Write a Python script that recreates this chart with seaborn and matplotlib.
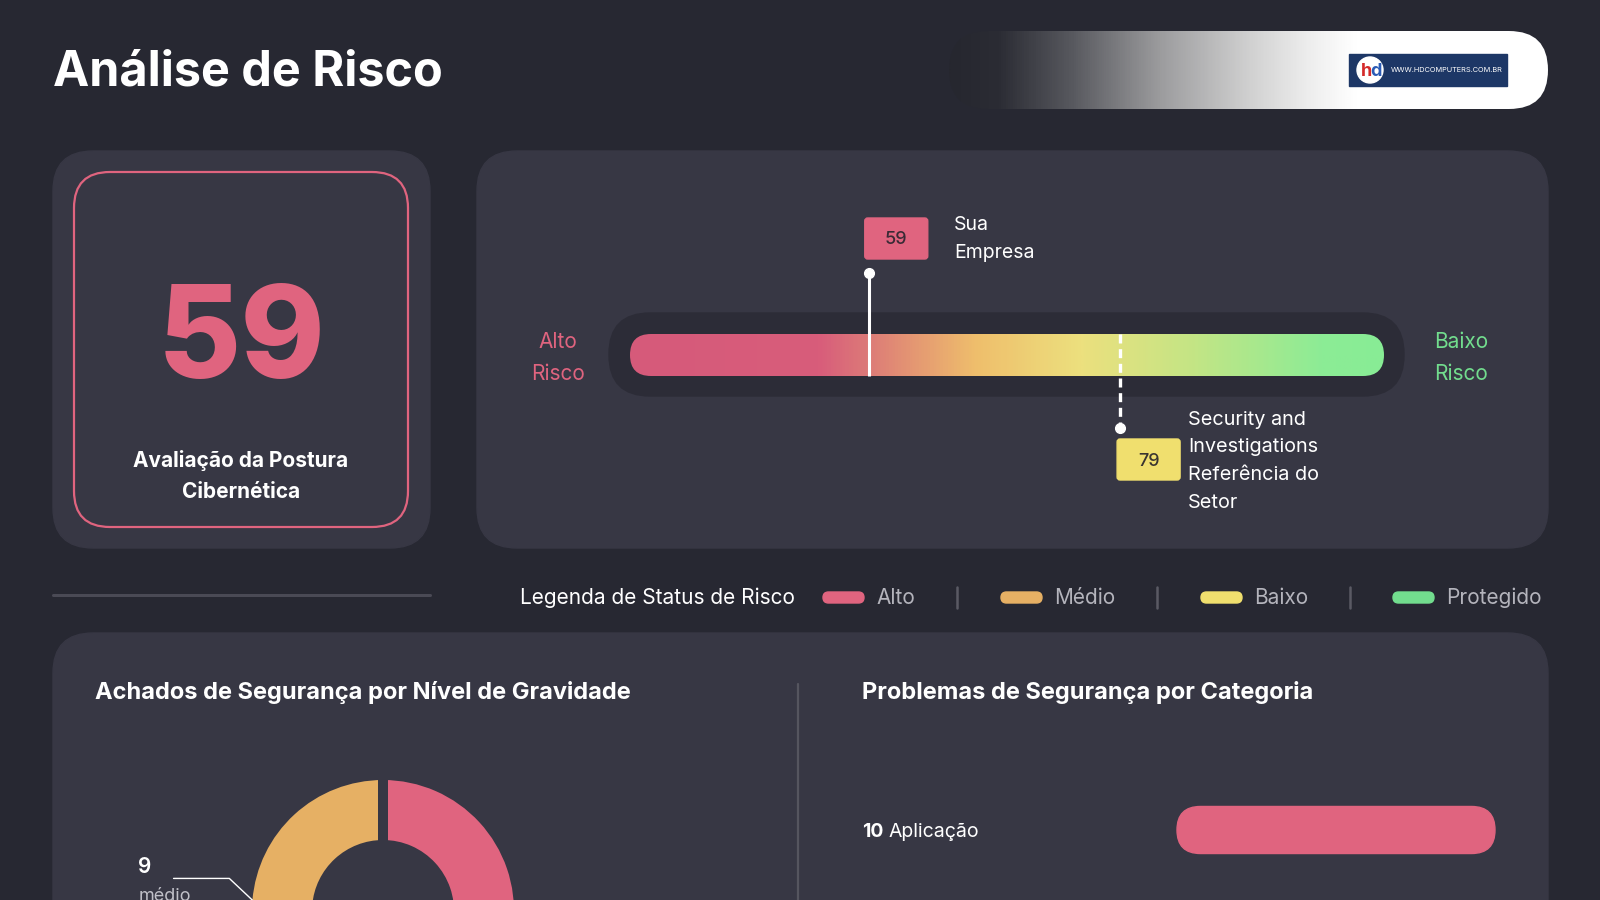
import numpy as np
import pandas as pd
import matplotlib
matplotlib.use("Agg")
import matplotlib.pyplot as plt
import seaborn as sns
from matplotlib.patches import FancyBboxPatch, Circle
from matplotlib.colors import LinearSegmentedColormap

# ---------------------------------------
# DATA
# ---------------------------------------
score = 59
benchmark = 79
benchmark_label = ["Security and", "Investigations", "Referência do", "Setor"]
scale_min, scale_max = 40, 100

legend_names = ["Alto", "Médio", "Baixo", "Protegido"]

severity_names = ["alto", "médio"]
severity_counts = [10, 9]

categories = ["Aplicação"]
category_counts = [10]

# ---------------------------------------
# STYLE
# ---------------------------------------
BG = "#272832"
CARD = "#373744"
PINK = "#e0647f"
ORANGE = "#e6b064"
YELLOW = "#f0df6e"
GREEN = "#72dd8e"
GREY_TXT = "#b4b4bc"
legend_colors = [PINK, ORANGE, YELLOW, GREEN]
severity_colors = [PINK, ORANGE]

sns.set_theme(style="dark")
plt.rcParams["font.family"] = ["Inter", "DejaVu Sans"]

fig = plt.figure(figsize=(16, 9), dpi=100, facecolor=BG)
bg = fig.add_axes([0, 0, 1, 1])
bg.set_xlim(0, 1600)
bg.set_ylim(900, 0)
bg.set_autoscale_on(False)
bg.axis("off")
bg.set_facecolor(BG)


def rbox(x0, y0, x1, y1, r, **kw):
    return FancyBboxPatch((x0, y0), x1 - x0, y1 - y0,
                          boxstyle=f"round,pad=0,rounding_size={r}", **kw)


def gradient(x0, y0, x1, y1, r, stops):
    cmap = LinearSegmentedColormap.from_list("g", stops)
    im = bg.imshow(np.linspace(0, 1, 600)[None, :], extent=(x0, x1, y1, y0),
                   cmap=cmap, aspect="auto", zorder=2)
    clip = rbox(x0, y0, x1, y1, r, transform=bg.transData)
    im.set_clip_path(clip)


# ---------------------------------------
# HEADER
# ---------------------------------------
bg.text(53, 72, "Análise de Risco", color="white", fontsize=35,
        fontweight="bold", va="center", ha="left")

gradient(949, 31, 1548, 109, 39,
         [(0, "#26272f"), (0.08, "#2b2c34"), (0.2, "#56575d"), (0.35, "#9b9b9d"),
          (0.5, "#d0d0d0"), (0.6, "#ededed"), (0.68, "#ffffff"), (1, "#ffffff")])
bg.add_patch(plt.Rectangle((1349, 54), 158, 32, color="#1d3766", zorder=3))
bg.add_patch(Circle((1370, 70), 13, color="white", zorder=4))
bg.text(1366, 71, "h", color="#d42a2a", fontsize=13, fontweight="bold",
        ha="center", va="center", zorder=5)
bg.text(1376, 71, "d", color="#2a5bb5", fontsize=13, fontweight="bold",
        ha="center", va="center", zorder=5)
bg.text(1391, 70, "WWW.HDCOMPUTERS.COM.BR", color="white", fontsize=5.3,
        ha="left", va="center", zorder=5)

# ---------------------------------------
# SCORE CARD
# ---------------------------------------
bg.add_patch(rbox(53, 151, 430, 548, 40, color=CARD, zorder=1))
bg.add_patch(rbox(74, 172, 408, 527, 36, fc="none", ec=PINK, lw=1.6, zorder=2))
bg.text(242, 378, str(score), color=PINK, fontsize=92, fontweight="heavy",
        ha="center", va="baseline", zorder=3)
bg.text(241, 476, "Avaliação da Postura\nCibernética", color="white",
        fontsize=15, fontweight="bold", ha="center", va="center",
        linespacing=1.65, zorder=3)

# ---------------------------------------
# GAUGE CARD
# ---------------------------------------
bg.add_patch(rbox(477, 151, 1548, 548, 40, color=CARD, zorder=1))
bg.add_patch(rbox(609, 313, 1404, 396, 41, color="#2c2c37", zorder=1.5))
gradient(630, 334, 1384, 376, 21,
         [(0, "#d65a7a"), (0.25, "#d85d7b"), (0.31, "#dc7878"), (0.46, "#efbf6c"),
          (0.6, "#ece07e"), (0.75, "#c3e585"), (0.92, "#8cec96"), (1, "#88ec95")])
bg.text(558, 358, "Alto\nRisco", color=PINK, fontsize=15, ha="center",
        va="center", linespacing=1.75, zorder=3)
bg.text(1461, 358, "Baixo\nRisco", color=GREEN, fontsize=15, ha="center",
        va="center", linespacing=1.75, zorder=3)

ax_g = fig.add_axes([630 / 1600, 0, 754 / 1600, 1])
ax_g.set_xlim(scale_min, scale_max)
ax_g.set_ylim(900, 0)
ax_g.axis("off")
ax_g.patch.set_alpha(0)
ax_g.plot([score, score], [273, 376], color="white", lw=2.2,
          solid_capstyle="butt", zorder=5)
ax_g.plot([score], [273], "o", color="white", ms=7, zorder=6)
ax_g.plot([benchmark, benchmark], [334, 428], color="white", lw=2.4,
          linestyle=(0, (2.7, 1.7)), zorder=5)
ax_g.plot([benchmark], [428], "o", color="white", ms=7, zorder=6)

sx = ax_g.transData.transform((score, 0))[0]
bx = ax_g.transData.transform((benchmark, 0))[0] + 2

bg.add_patch(rbox(sx - 4, 218, sx + 59, 259, 3, color=PINK, zorder=3))
bg.text(sx + 27.5, 240, str(score), color="#3a2a35", fontsize=13,
        fontweight="medium", ha="center", va="center", zorder=4)
bg.text(sx + 85, 225, "Sua", color="white", fontsize=14, va="center", zorder=4)
bg.text(sx + 85, 253, "Empresa", color="white", fontsize=14, va="center", zorder=4)

bg.add_patch(rbox(bx - 5, 439, bx + 58, 480, 3, color=YELLOW, zorder=3))
bg.text(bx + 26.5, 461, str(benchmark), color="#3a3530", fontsize=13,
        fontweight="medium", ha="center", va="center", zorder=4)
for i, line in enumerate(benchmark_label):
    bg.text(bx + 66, 420 + i * 27.5, line, color="white", fontsize=14.3,
            va="center", zorder=4)

# ---------------------------------------
# LEGEND ROW
# ---------------------------------------
bg.plot([53, 430], [595, 595], color="#4a4a55", lw=2.2)
bg.text(520, 598, "Legenda de Status de Risco", color="white", fontsize=15,
        va="center")
pill_x = [823, 1001, 1201, 1393]
for name, col, px in zip(legend_names, legend_colors, pill_x):
    bg.add_patch(rbox(px, 592, px + 41, 603, 5.5, color=col, zorder=2))
    bg.text(px + 53, 598, name, color=GREY_TXT, fontsize=15, va="center")
for sep in [957, 1157, 1350]:
    bg.plot([sep, sep], [587, 608], color="#5a5a64", lw=1.8)

# ---------------------------------------
# BOTTOM CARD
# ---------------------------------------
bg.add_patch(rbox(53, 633, 1548, 980, 40, color=CARD, zorder=1))
bg.plot([798, 798], [684, 900], color="#55555f", lw=1.6, zorder=2)
bg.text(95, 693, "Achados de Segurança por Nível de Gravidade", color="white",
        fontsize=17, fontweight="bold", va="center", zorder=3)
bg.text(862, 693, "Problemas de Segurança por Categoria", color="white",
        fontsize=17, fontweight="bold", va="center", zorder=3)

# donut
ax_d = fig.add_axes([(383 - 136) / 1600, (900 - 911 - 136) / 900,
                     272 / 1600, 272 / 900])
wedges, _ = ax_d.pie(severity_counts, colors=severity_colors, startangle=90,
                     counterclock=False,
                     wedgeprops=dict(width=70 / 136, edgecolor=CARD, linewidth=7.2))
ax_d.set_xlim(-1, 1)
ax_d.set_ylim(-1, 1)
ax_d.axis("off")

w = wedges[1]
mid = np.deg2rad((w.theta1 + w.theta2) / 2)
r_out = 131 / 136
p0 = np.array([np.cos(mid), np.sin(mid)]) * r_out
p1 = p0 + np.array([-0.17, 0.16])
p2 = p1 + np.array([-0.41, 0])
ax_d.plot([p0[0], p1[0], p2[0]], [p0[1], p1[1], p2[1]], color="white",
          lw=1, clip_on=False)
ax_d.text(p2[0] - 0.26, p2[1] + 0.085, str(severity_counts[1]), color="white",
          fontsize=15, fontweight="semibold", ha="left", va="center")
ax_d.text(p2[0] - 0.26, p2[1] - 0.13, severity_names[1], color="#c0c0c8",
          fontsize=13, ha="left", va="center")

# category bars
df = pd.DataFrame({"categoria": categories, "total": category_counts})
ax_b = fig.add_axes([1177 / 1600, (900 - 859.4) / 900, 318 / 1600, 58.8 / 900])
sns.barplot(data=df, x="total", y="categoria", color=PINK, ax=ax_b, orient="h")
ax_b.set_xlim(0, max(category_counts))
ax_b.set_ylim(len(categories) - 0.5, -0.5)
ax_b.axis("off")
ax_b.patch.set_alpha(0)
for p in ax_b.patches:
    bb = p.get_window_extent()
    h = bb.height
    bg.add_patch(rbox(bb.x0, 900 - bb.y1, bb.x1, 900 - bb.y0, h / 2,
                      color=PINK, zorder=3))
    p.set_visible(False)

renderer = fig.canvas.get_renderer()
for i, (cat, val) in enumerate(zip(categories, category_counts)):
    y = 832 + i * 60
    t = bg.text(862, y, str(val), color="white", fontsize=14,
                fontweight="bold", va="center", zorder=4)
    x_end = t.get_window_extent(renderer).x1
    bg.text(x_end + 5, y, cat, color="white", fontsize=14, va="center", zorder=4)

plt.savefig("out.png", dpi=100, facecolor=BG)
